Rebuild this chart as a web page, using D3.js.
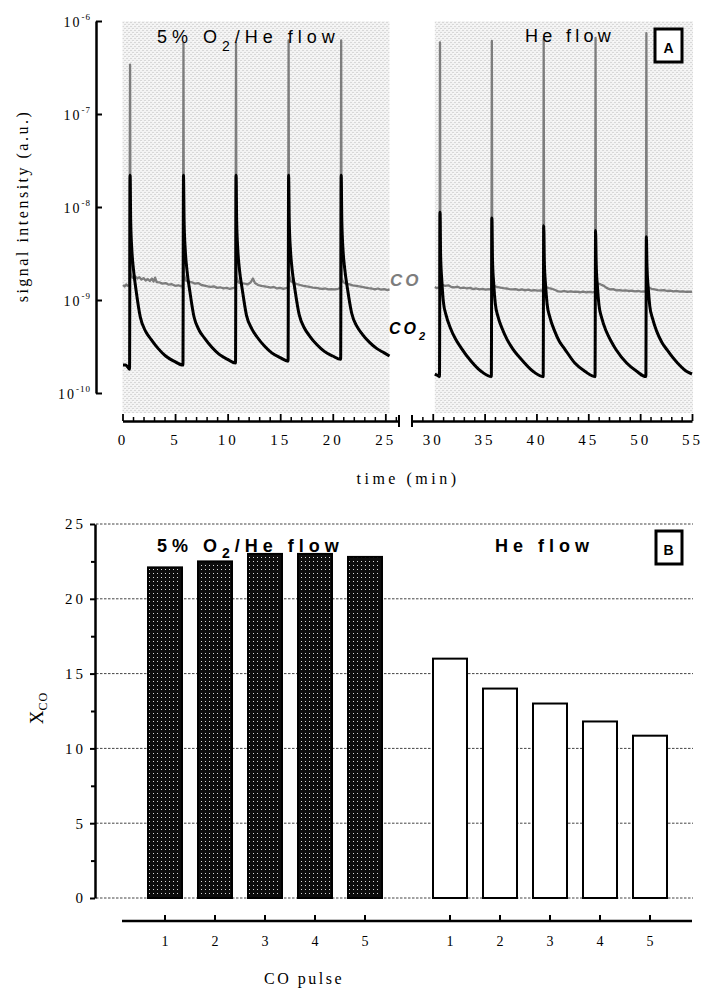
<!DOCTYPE html>
<html>
<head>
<meta charset="utf-8">
<script src="https://cdn.jsdelivr.net/npm/d3@7"></script>
<style>
  body { margin: 0; background: #fff; }
  svg { display: block; }
</style>
</head>
<body>
<div id="chart"></div>
<script>
// ---- panel A data (signal in units of 1e-9, time in min) ----
const coO2 = [
  [0.05,1.45],[0.2,1.40],[0.35,1.47],[0.5,1.42],[0.66,1.45],
  [0.72,340],[0.76,1.95],[0.85,1.8],[1.0,1.72],[1.2,1.80],[1.4,1.70],[1.6,1.76],[1.8,1.66],[2.0,1.72],[2.2,1.62],[2.4,1.68],[2.6,1.60],[2.8,1.70],[2.95,1.58],[3.1,1.74],[3.25,1.56],[3.5,1.55],[3.8,1.50],[4.1,1.52],[4.4,1.46],[4.7,1.48],[5.0,1.42],[5.3,1.44],[5.6,1.40],[5.75,1.45],
  [5.8,580],[5.84,1.9],[6.0,1.62],[6.3,1.58],[6.6,1.55],[6.9,1.50],[7.2,1.52],[7.5,1.45],[7.8,1.43],[8.1,1.40],[8.4,1.38],[8.7,1.40],[9.0,1.35],[9.3,1.37],[9.6,1.33],[9.9,1.35],[10.2,1.32],[10.5,1.34],[10.75,1.38],
  [10.8,580],[10.84,1.8],[11.0,1.55],[11.3,1.52],[11.6,1.50],[11.9,1.47],[12.2,1.55],[12.4,1.70],[12.6,1.52],[12.9,1.45],[13.2,1.42],[13.5,1.40],[13.8,1.38],[14.1,1.36],[14.4,1.38],[14.7,1.33],[15.0,1.35],[15.3,1.32],[15.55,1.34],[15.75,1.36],
  [15.8,620],[15.84,1.85],[16.0,1.60],[16.3,1.52],[16.6,1.48],[16.9,1.45],[17.2,1.42],[17.5,1.40],[17.8,1.38],[18.1,1.36],[18.4,1.35],[18.7,1.33],[19.0,1.32],[19.3,1.33],[19.6,1.30],[19.9,1.31],[20.2,1.30],[20.5,1.32],[20.75,1.35],
  [20.8,620],[20.84,1.7],[21.0,1.55],[21.3,1.50],[21.6,1.47],[21.9,1.44],[22.2,1.42],[22.5,1.40],[22.8,1.38],[23.1,1.36],[23.4,1.34],[23.7,1.33],[24.0,1.30],[24.3,1.33],[24.6,1.29],[24.9,1.31],[25.2,1.28],[25.4,1.30]
];
const coHe = [
  [30.2,1.38],[30.4,1.34],[30.6,1.37],[30.66,1.35],
  [30.7,590],[30.74,1.62],[30.9,1.46],[31.2,1.42],[31.5,1.44],[31.8,1.38],[32.1,1.37],[32.4,1.39],[32.7,1.34],[33.0,1.36],[33.3,1.33],[33.6,1.35],[33.9,1.31],[34.2,1.33],[34.5,1.30],[34.8,1.32],[35.1,1.29],[35.4,1.31],[35.66,1.30],
  [35.7,610],[35.74,1.55],[35.9,1.42],[36.2,1.38],[36.5,1.36],[36.8,1.34],[37.1,1.33],[37.4,1.31],[37.7,1.30],[38.0,1.31],[38.3,1.28],[38.6,1.30],[38.9,1.27],[39.2,1.29],[39.5,1.26],[39.8,1.28],[40.1,1.26],[40.4,1.27],[40.66,1.26],
  [40.7,640],[40.74,1.50],[40.9,1.38],[41.2,1.34],[41.5,1.32],[41.8,1.28],[42.1,1.24],[42.4,1.23],[42.7,1.25],[43.0,1.22],[43.3,1.24],[43.6,1.22],[43.9,1.23],[44.2,1.21],[44.5,1.23],[44.8,1.21],[45.1,1.22],[45.4,1.21],[45.66,1.22],
  [45.7,660],[45.74,1.58],[45.9,1.50],[46.2,1.47],[46.5,1.42],[46.8,1.34],[47.1,1.30],[47.4,1.31],[47.7,1.27],[48.0,1.28],[48.3,1.26],[48.6,1.27],[48.9,1.25],[49.2,1.26],[49.5,1.24],[49.8,1.25],[50.1,1.23],[50.4,1.24],[50.56,1.23],
  [50.6,740],[50.64,1.50],[50.8,1.36],[51.1,1.32],[51.4,1.30],[51.7,1.28],[52.0,1.27],[52.3,1.28],[52.6,1.25],[52.9,1.26],[53.2,1.24],[53.5,1.25],[53.8,1.23],[54.1,1.24],[54.4,1.22],[54.7,1.23],[55.0,1.22]
];
const co2O2 = [
  [0.05,0.20],[0.3,0.20],[0.5,0.19],[0.67,0.18],
  [0.72,22],[0.78,7.0],[0.9,3.3],[1.05,2.1],[1.3,1.25],[1.7,0.65],[2.2,0.46],[2.7,0.38],[3.4,0.30],[4.1,0.25],[4.9,0.22],[5.75,0.20],
  [5.8,22],[5.86,7.0],[5.98,3.3],[6.13,2.1],[6.4,1.25],[6.8,0.66],[7.3,0.47],[7.8,0.39],[8.5,0.31],[9.2,0.26],[10.0,0.23],[10.75,0.21],
  [10.8,22],[10.86,7.0],[10.98,3.3],[11.13,2.1],[11.4,1.28],[11.8,0.68],[12.3,0.49],[12.8,0.40],[13.5,0.32],[14.2,0.27],[15.0,0.24],[15.75,0.22],
  [15.8,22],[15.86,7.0],[15.98,3.4],[16.13,2.15],[16.4,1.3],[16.8,0.7],[17.3,0.5],[17.8,0.41],[18.5,0.33],[19.2,0.28],[20.0,0.25],[20.75,0.23],
  [20.8,22],[20.86,7.2],[20.98,3.4],[21.13,2.2],[21.4,1.32],[21.8,0.72],[22.3,0.52],[22.8,0.43],[23.5,0.35],[24.2,0.30],[24.9,0.27],[25.4,0.25]
];
const co2He = [
  [30.2,0.16],[30.45,0.155],[30.65,0.15],
  [30.7,8.8],[30.76,3.0],[30.88,1.6],[31.03,0.95],[31.3,0.68],[31.7,0.50],[32.2,0.38],[32.7,0.31],[33.7,0.22],[34.7,0.17],[35.65,0.15],
  [35.7,7.6],[35.76,2.8],[35.88,1.5],[36.03,0.92],[36.3,0.66],[36.7,0.49],[37.2,0.37],[37.7,0.30],[38.7,0.22],[39.7,0.17],[40.65,0.15],
  [40.7,6.3],[40.76,2.6],[40.88,1.45],[41.03,0.9],[41.3,0.65],[41.7,0.48],[42.2,0.36],[42.7,0.30],[43.7,0.21],[44.7,0.17],[45.65,0.15],
  [45.7,5.6],[45.76,2.5],[45.88,1.4],[46.03,0.88],[46.3,0.64],[46.7,0.47],[47.2,0.36],[47.7,0.29],[48.7,0.21],[49.7,0.17],[50.55,0.15],
  [50.6,4.8],[50.66,2.3],[50.78,1.35],[50.93,0.86],[51.2,0.63],[51.6,0.46],[52.1,0.35],[52.6,0.29],[53.6,0.21],[54.5,0.17],[55,0.16]
];
const yTicksA = [1e-10, 1e-9, 1e-8, 1e-7, 1e-6];
const timeTicksO2 = [0, 5, 10, 15, 20, 25];
const timeTicksHe = [30, 35, 40, 45, 50, 55];

// ---- panel B data ----
const pulses = ["1", "2", "3", "4", "5"];
const xcoO2 = [22.1, 22.5, 23.0, 23.0, 22.8];
const xcoHe = [16.0, 14.0, 13.0, 11.8, 10.85];
const yTicksB = [0, 5, 10, 15, 20, 25];

const SERIF = "'Liberation Serif', 'Times New Roman', serif";
const SANS = "'Liberation Sans', Arial, sans-serif";

const svg = d3.select("#chart").append("svg")
  .attr("width", 702).attr("height", 999);

// patterns
const defs = svg.append("defs");
const shade = defs.append("pattern").attr("id", "shade")
  .attr("width", 4).attr("height", 4).attr("patternUnits", "userSpaceOnUse");
shade.append("rect").attr("width", 4).attr("height", 4).attr("fill", "#f3f3f3");
shade.append("rect").attr("x", 0).attr("y", 0).attr("width", 2).attr("height", 1).attr("fill", "#d8d8d8");
shade.append("rect").attr("x", 2).attr("y", 2).attr("width", 2).attr("height", 1).attr("fill", "#d8d8d8");
shade.append("rect").attr("x", 1).attr("y", 1).attr("width", 1).attr("height", 1).attr("fill", "#fcfcfc");

const dots = defs.append("pattern").attr("id", "dots")
  .attr("width", 4).attr("height", 4).attr("patternUnits", "userSpaceOnUse");
dots.append("rect").attr("width", 4).attr("height", 4).attr("fill", "#0d0d0d");
dots.append("rect").attr("x", 1).attr("y", 1).attr("width", 1).attr("height", 1).attr("fill", "#d8d8d8");

// ================= Panel A =================
const y = d3.scaleLog().domain([1e-10, 1e-6]).range([393, 21]);
const xA = d3.scaleLinear().domain([0, 26.3]).range([122.5, 399]);
const xB = d3.scaleLinear().domain([28, 55]).range([412, 692]);
const axisY = 421;

// shaded plotting backgrounds
svg.append("rect").attr("x", xA(0)).attr("y", 21)
  .attr("width", xA(25.4) - xA(0)).attr("height", 392).attr("fill", "url(#shade)");
svg.append("rect").attr("x", xB(30.2)).attr("y", 21)
  .attr("width", xB(55.1) - xB(30.2)).attr("height", 392).attr("fill", "url(#shade)");

const lineA = d3.line().x(d => xA(d[0])).y(d => y(d[1] * 1e-9));
const lineB = d3.line().x(d => xB(d[0])).y(d => y(d[1] * 1e-9));

// CO (grey) lines
[[coO2, lineA], [coHe, lineB]].forEach(([data, line]) => {
  svg.append("path").datum(data)
    .attr("d", line.curve(d3.curveLinear))
    .attr("fill", "none").attr("stroke", "#7d7d7d")
    .attr("stroke-width", 2.3).attr("stroke-linejoin", "round");
});

// CO2 (black) lines
[[co2O2, lineA], [co2He, lineB]].forEach(([data, line]) => {
  svg.append("path").datum(data)
    .attr("d", line.curve(d3.curveMonotoneX))
    .attr("fill", "none").attr("stroke", "#000")
    .attr("stroke-width", 3).attr("stroke-linejoin", "round");
});

// y axis
const gy = svg.append("g").attr("transform", "translate(96,0)")
  .call(d3.axisLeft(y).tickValues(yTicksA).tickSize(-6).tickSizeOuter(0).tickFormat(""));
gy.select(".domain").attr("stroke-width", 2.5);
gy.selectAll(".tick line").attr("stroke-width", 2);

yTicksA.forEach(v => {
  const t = svg.append("text").style("font-family", SERIF)
    .attr("x", 91).attr("y", y(v) + 6)
    .attr("text-anchor", "end").attr("font-size", 14).attr("fill", "#000");
  t.append("tspan").attr("letter-spacing", 2).text("10");
  t.append("tspan").attr("font-size", 9).attr("dy", -7).attr("letter-spacing", 1)
    .text(String(Math.round(Math.log10(v))));
});

svg.append("text").style("font-family", SERIF)
  .attr("transform", "translate(28,206) rotate(-90)")
  .attr("text-anchor", "middle").attr("font-size", 16).attr("letter-spacing", 2.5)
  .text("signal intensity (a.u.)");

// x axes (two segments with a break)
function timeAxis(scale, majors, lo, hi) {
  const minors = d3.range(lo, hi + 1).filter(v => majors.indexOf(v) < 0);
  const g = svg.append("g").attr("transform", `translate(0,${axisY})`);
  g.call(d3.axisBottom(scale).tickValues(minors).tickSize(-4).tickSizeOuter(0).tickFormat(""));
  g.select(".domain").attr("stroke-width", 2.5);
  g.selectAll(".tick line").attr("stroke-width", 1.5);
  const g2 = svg.append("g").attr("transform", `translate(0,${axisY})`);
  g2.call(d3.axisBottom(scale).tickValues(majors).tickSize(-7).tickPadding(13));
  g2.select(".domain").remove();
  g2.selectAll(".tick line").attr("stroke-width", 1.8);
  g2.selectAll(".tick text").style("font-family", SERIF).attr("font-size", 15)
    .attr("letter-spacing", 3).attr("fill", "#000");
}
timeAxis(xA, timeTicksO2, 1, 26);
timeAxis(xB, timeTicksHe, 29, 55);

// break marks
[xA(26.3), xB(28)].forEach(x => {
  svg.append("line").attr("x1", x).attr("x2", x)
    .attr("y1", axisY - 6).attr("y2", axisY + 6)
    .attr("stroke", "#000").attr("stroke-width", 2);
});

svg.append("text").style("font-family", SERIF)
  .attr("x", 408).attr("y", 484).attr("text-anchor", "middle")
  .attr("font-size", 16).attr("letter-spacing", 3.5).text("time (min)");

// panel A labels
const tA1 = svg.append("text").style("font-family", SANS)
  .attr("x", 157).attr("y", 43).attr("font-size", 18).attr("letter-spacing", 5);
tA1.append("tspan").text("5% O");
tA1.append("tspan").attr("font-size", 14).attr("dy", 8).text("2");
tA1.append("tspan").attr("dy", -8).text("/He flow");

svg.append("text").style("font-family", SANS)
  .attr("x", 525).attr("y", 42).attr("font-size", 18).attr("letter-spacing", 4.3)
  .text("He flow");

svg.append("rect").attr("x", 655).attr("y", 29).attr("width", 27).attr("height", 33)
  .attr("fill", "#fff").attr("stroke", "#000").attr("stroke-width", 3);
svg.append("text").style("font-family", SANS).attr("x", 668.5).attr("y", 53)
  .attr("text-anchor", "middle").attr("font-size", 14).attr("font-weight", "bold").text("A");

svg.append("text").style("font-family", SANS)
  .attr("x", 390).attr("y", 286).attr("font-size", 17).attr("font-weight", "bold")
  .attr("font-style", "italic").attr("letter-spacing", 3).attr("fill", "#7d7d7d").text("CO");
const tCO2 = svg.append("text").style("font-family", SANS)
  .attr("x", 389).attr("y", 334).attr("font-size", 16).attr("font-weight", "bold")
  .attr("font-style", "italic").attr("letter-spacing", 3).attr("fill", "#000");
tCO2.append("tspan").text("CO");
tCO2.append("tspan").attr("font-size", 11).attr("dy", 6).text("2");

// ================= Panel B =================
const yb = d3.scaleLinear().domain([0, 25]).range([898, 524]);
const bandO2 = d3.scaleBand().domain(pulses).range([140, 390]).paddingInner(0.32).paddingOuter(0.16);
const bandHe = d3.scaleBand().domain(pulses).range([425, 675]).paddingInner(0.32).paddingOuter(0.16);

// dashed grid
svg.append("g").selectAll("line").data(yTicksB).join("line")
  .attr("x1", 96).attr("x2", 693)
  .attr("y1", d => yb(d)).attr("y2", d => yb(d))
  .attr("stroke", "#444").attr("stroke-width", 1).attr("stroke-dasharray", "2.5,1.5");

// bars
svg.append("g").selectAll("rect").data(xcoO2).join("rect")
  .attr("x", (d, i) => bandO2(pulses[i]))
  .attr("y", d => yb(d))
  .attr("width", bandO2.bandwidth())
  .attr("height", d => yb(0) - yb(d))
  .attr("fill", "url(#dots)").attr("stroke", "#000").attr("stroke-width", 2);

svg.append("g").selectAll("rect").data(xcoHe).join("rect")
  .attr("x", (d, i) => bandHe(pulses[i]))
  .attr("y", d => yb(d))
  .attr("width", bandHe.bandwidth())
  .attr("height", d => yb(0) - yb(d))
  .attr("fill", "#fff").attr("stroke", "#000").attr("stroke-width", 2);

// y axis B
const gyb = svg.append("g").attr("transform", "translate(95,0)")
  .call(d3.axisLeft(yb).tickValues(yTicksB).tickSize(5).tickSizeOuter(0).tickPadding(4));
gyb.select(".domain").attr("stroke-width", 2.5);
gyb.selectAll(".tick line").attr("stroke-width", 2);
gyb.selectAll(".tick text").style("font-family", SERIF)
  .attr("font-size", 15).attr("letter-spacing", 3).attr("fill", "#000");
const gybm = svg.append("g").attr("transform", "translate(95,0)")
  .call(d3.axisLeft(yb).tickValues([2.5, 7.5, 12.5, 17.5, 22.5]).tickSize(4).tickFormat(""));
gybm.select(".domain").remove();
gybm.selectAll(".tick line").attr("stroke-width", 2);

const tX = svg.append("text").style("font-family", SERIF)
  .attr("transform", "translate(43,708) rotate(-90)")
  .attr("text-anchor", "middle").attr("font-size", 19);
tX.append("tspan").text("X");
tX.append("tspan").attr("font-size", 12).attr("dy", 4).attr("letter-spacing", 1).text("CO");

// x axis B
const baseB = 921;
svg.append("line").attr("x1", 122).attr("x2", 692)
  .attr("y1", baseB).attr("y2", baseB).attr("stroke", "#000").attr("stroke-width", 2.5);
[bandO2, bandHe].forEach(sc => {
  const g = svg.append("g").attr("transform", `translate(0,${baseB})`)
    .call(d3.axisBottom(sc).tickSize(-6).tickPadding(15));
  g.select(".domain").remove();
  g.selectAll(".tick line").attr("stroke-width", 2);
  g.selectAll(".tick text").style("font-family", SERIF)
    .attr("font-size", 14).attr("fill", "#000");
});

svg.append("text").style("font-family", SERIF)
  .attr("x", 304).attr("y", 984).attr("text-anchor", "middle")
  .attr("font-size", 16).attr("letter-spacing", 2.5).text("CO pulse");

// panel B labels
const tB1 = svg.append("text").style("font-family", SANS)
  .attr("x", 157).attr("y", 552).attr("font-size", 18).attr("font-weight", "bold").attr("letter-spacing", 5);
tB1.append("tspan").text("5% O");
tB1.append("tspan").attr("font-size", 14).attr("dy", 6).text("2");
tB1.append("tspan").attr("dy", -6).text("/He flow");

svg.append("text").style("font-family", SANS)
  .attr("x", 495).attr("y", 552).attr("font-size", 18).attr("font-weight", "bold").attr("letter-spacing", 5)
  .text("He flow");

svg.append("rect").attr("x", 656).attr("y", 531).attr("width", 26).attr("height", 33)
  .attr("fill", "#fff").attr("stroke", "#000").attr("stroke-width", 3);
svg.append("text").style("font-family", SANS).attr("x", 668.5).attr("y", 555)
  .attr("text-anchor", "middle").attr("font-size", 14).attr("font-weight", "bold").text("B");
</script>
</body>
</html>
